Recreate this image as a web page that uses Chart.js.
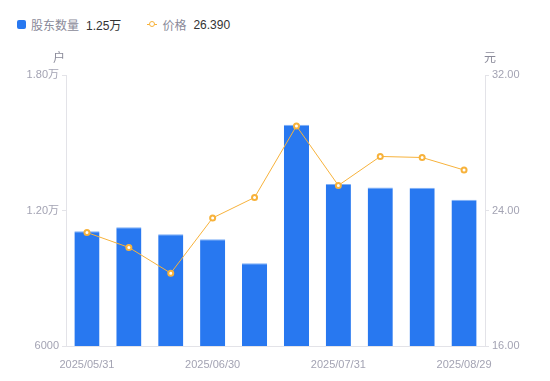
<!DOCTYPE html>
<html>
<head>
<meta charset="utf-8">
<script src="https://cdn.jsdelivr.net/npm/chart.js@4"></script>
<style>
    html, body { margin: 0; padding: 0; background: #fff; }
    body { width: 550px; height: 381px; position: relative; overflow: hidden;
           font-family: "Liberation Sans", "Noto Sans CJK SC", sans-serif; }
    #legend { position: absolute; left: 17px; top: 16px; font-size: 12px; display: flex; align-items: center; }
    .lg-item { display: flex; align-items: center; margin-right: 26px; }
    .lg-name { color: #8a8a99; margin-right: 7px; }
    .lg-val { color: #333; }
    .sq { width: 9px; height: 9px; background: #2878F0; border-radius: 2px; margin-right: 5px; }
    .ln { position: relative; width: 10px; height: 9px; margin-right: 5px; }
    .ln:before { content: ''; position: absolute; left: 0; right: 0; top: 4px; height: 1px; background: #F7B23B; }
    .ln:after { content: ''; position: absolute; left: 2px; top: 1px; width: 4px; height: 4px; border: 1.5px solid #F7B23B; border-radius: 50%; background: #fff; }
    #wrap { position: absolute; left: 0; top: 0; width: 550px; height: 381px; }
</style>
</head>
<body>
<div id="legend">
    <div class="lg-item"><div class="sq"></div><span class="lg-name">股东数量</span><span class="lg-val">1.25万</span></div>
    <div class="lg-item"><div class="ln"></div><span class="lg-name">价格</span><span class="lg-val">26.390</span></div>
</div>
<div id="wrap"><canvas id="c"></canvas></div>
<script>
// --- data ---
const dates = ['2025/05/31', '2025/06/10', '2025/06/20', '2025/06/30', '2025/07/10',
               '2025/07/20', '2025/07/31', '2025/08/10', '2025/08/20', '2025/08/29'];
const holders = [11080, 11256, 10949, 10730, 9666, 15798, 13170, 13021, 13008, 12480];
const prices = [22.70, 21.82, 20.30, 23.56, 24.77, 28.99, 25.48, 27.19, 27.13, 26.39];
const leftTicks = [6000, 12000, 18000];
const rightTicks = [16, 24, 32];

const axisColor = '#e3e3e8';
const labelColor = '#a3a3b3';
const fontFam = '"Liberation Sans", "Noto Sans CJK SC", sans-serif';

function fmtHolders(v) {
    if (v >= 10000) return (v / 10000).toFixed(2) + '万';
    return String(v);
}

// draws the unit titles above each y axis
const unitTitles = {
    id: 'unitTitles',
    afterDraw(chart) {
        const ctx = chart.ctx, a = chart.chartArea;
        ctx.save();
        ctx.font = '12px ' + fontFam;
        ctx.fillStyle = '#8a8a99';
        ctx.textBaseline = 'middle';
        ctx.textAlign = 'center';
        ctx.fillText('户', a.left - 7, a.top - 16);
        ctx.fillText('元', a.right + 5, a.top - 16);
        ctx.restore();
    }
};

new Chart(document.getElementById('c'), {
    data: {
        labels: dates,
        datasets: [
            {
                type: 'line',
                label: '价格',
                data: prices,
                yAxisID: 'y1',
                borderColor: '#F7B23B',
                borderWidth: 1,
                pointRadius: 2.5,
                pointBorderWidth: 2,
                pointBackgroundColor: '#fff',
                pointBorderColor: '#F7B23B',
                tension: 0,
                order: 0
            },
            {
                type: 'bar',
                label: '股东数量',
                data: holders,
                yAxisID: 'y',
                backgroundColor: '#2878F0',
                borderColor: '#7fb0f7',
                borderWidth: { top: 1, left: 0, right: 0, bottom: 0 },
                borderSkipped: 'bottom',
                categoryPercentage: 0.6,
                barPercentage: 1,
                order: 1
            }
        ]
    },
    options: {
        responsive: true,
        maintainAspectRatio: false,
        animation: false,
        layout: { padding: { top: 75, bottom: 0, left: 0, right: 0 } },
        plugins: { legend: { display: false }, tooltip: { enabled: false } },
        scales: {
            x: {
                grid: { display: false },
                border: { color: axisColor },
                ticks: {
                    autoSkip: false, maxRotation: 0, padding: 4,
                    color: labelColor, font: { size: 11, family: fontFam },
                    callback: function (v, i) { return i % 3 === 0 ? dates[i] : ''; }
                },
                afterFit(s) { s.height = 35; }
            },
            y: {
                position: 'left',
                min: 6000, max: 18000,
                afterBuildTicks(s) { s.ticks = leftTicks.map(v => ({ value: v })); },
                grid: { drawOnChartArea: false, tickLength: 4, color: axisColor },
                border: { color: axisColor },
                ticks: { color: labelColor, padding: 3, font: { size: 11, family: fontFam }, callback: fmtHolders },
                afterFit(s) { s.width = 66; }
            },
            y1: {
                position: 'right',
                min: 16, max: 32,
                afterBuildTicks(s) { s.ticks = rightTicks.map(v => ({ value: v })); },
                grid: { drawOnChartArea: false, tickLength: 4, color: axisColor },
                border: { color: axisColor },
                ticks: { color: labelColor, padding: 3, font: { size: 11, family: fontFam }, callback: v => v.toFixed(2) },
                afterFit(s) { s.width = 65; }
            }
        }
    },
    plugins: [unitTitles]
});
</script>
</body>
</html>
